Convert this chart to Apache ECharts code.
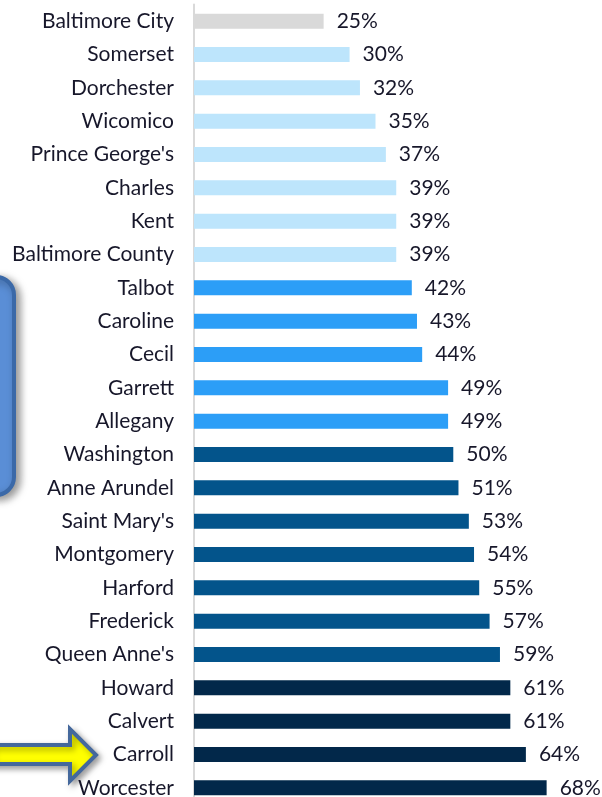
<!DOCTYPE html>
<html>
<head>
<meta charset="utf-8">
<script src="https://cdn.jsdelivr.net/npm/echarts@6/dist/echarts.min.js"></script>
<style>
  html, body { margin: 0; padding: 0; background: #fff; overflow: hidden; }
  #chart { width: 602px; height: 830px; }
</style>
</head>
<body>
<div id="chart"></div>
<script>
// counties, top to bottom
const counties = [
  "Baltimore City", "Somerset", "Dorchester", "Wicomico", "Prince George's",
  "Charles", "Kent", "Baltimore County", "Talbot", "Caroline", "Cecil",
  "Garrett", "Allegany", "Washington", "Anne Arundel", "Saint Mary's",
  "Montgomery", "Harford", "Frederick", "Queen Anne's", "Howard", "Calvert",
  "Carroll", "Worcester"
];
const percents = [25, 30, 32, 35, 37, 39, 39, 39, 42, 43, 44, 49, 49, 50, 51, 53, 54, 55, 57, 59, 61, 61, 64, 68];
// colour group per bar (0 grey, 1 light, 2 mid, 3 dark, 4 navy)
const groups = [0, 1, 1, 1, 1, 1, 1, 1, 2, 2, 2, 2, 2, 3, 3, 3, 3, 3, 3, 3, 4, 4, 4, 4];
const palette = ["#d9d9d9", "#bde5fc", "#2c9ef7", "#03548b", "#02284a"];

const chart = echarts.init(document.getElementById("chart"));

chart.setOption({
  animation: false,
  grid: { left: 194, top: 4.5, width: 363, height: 800 },
  xAxis: {
    type: "value",
    min: 0,
    max: 70,
    show: false
  },
  yAxis: {
    type: "category",
    inverse: true,
    data: counties,
    axisTick: { show: false },
    axisLine: { show: true, lineStyle: { color: "#d9d9d9", width: 2 } },
    axisLabel: {
      margin: 20,
      fontFamily: "Lato",
      fontSize: 21,
      color: "#17172a"
    }
  },
  series: [{
    type: "bar",
    barWidth: 15,
    data: percents.map((v, i) => ({
      value: v,
      itemStyle: { color: palette[groups[i]] }
    })),
    label: {
      show: true,
      position: "right",
      distance: 13,
      fontFamily: "Lato",
      fontSize: 21,
      color: "#17172a",
      formatter: p => p.value + "%"
    }
  }],
  graphic: [
    {
      type: "rect",
      shape: { x: -40, y: 277, width: 54, height: 218, r: 18 },
      style: {
        fill: "#5a8ed6",
        stroke: "#3b69a8",
        lineWidth: 4,
        shadowBlur: 8,
        shadowOffsetX: 4,
        shadowOffsetY: 3,
        shadowColor: "rgba(0,0,0,0.4)"
      }
    },
    {
      type: "polygon",
      shape: {
        points: [[-10, 745], [70, 745], [70, 729], [96, 755], [70, 781], [70, 764], [-10, 764]]
      },
      style: {
        fill: "#ffff00",
        stroke: "#44689c",
        lineWidth: 4,
        lineJoin: "miter",
        shadowBlur: 6,
        shadowOffsetX: 3,
        shadowOffsetY: 3,
        shadowColor: "rgba(0,0,0,0.35)"
      }
    }
  ]
});
</script>
</body>
</html>
